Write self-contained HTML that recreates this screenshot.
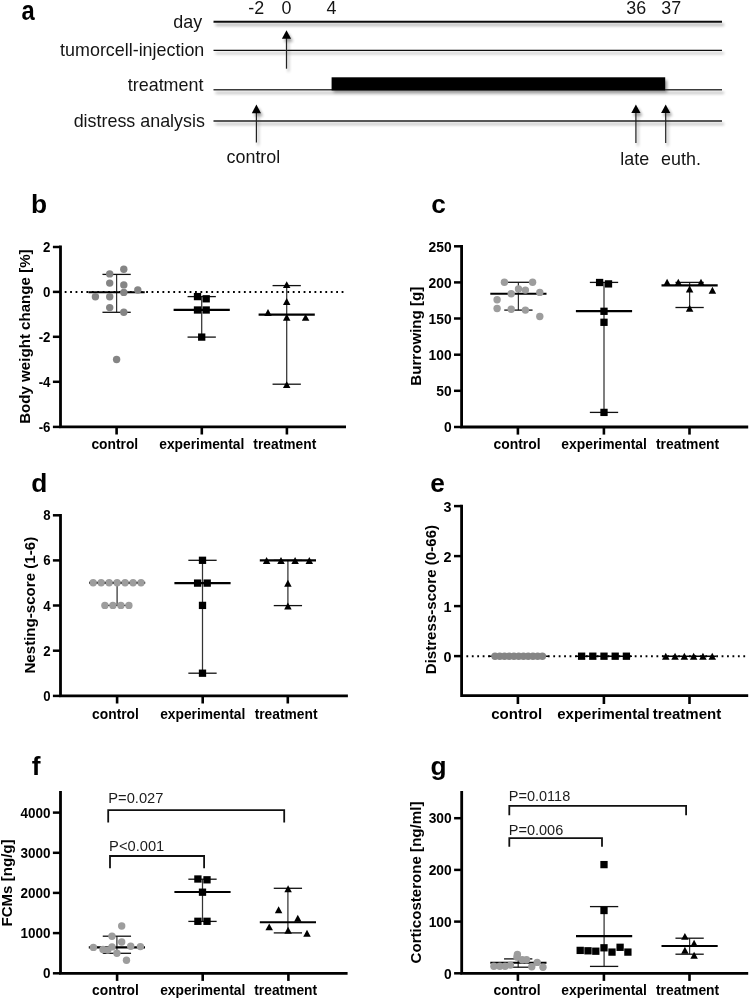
<!DOCTYPE html><html><head><meta charset="utf-8"><style>html,body{margin:0;padding:0;background:#fff;}svg{display:block;filter:blur(0.4px);}text{font-family:"Liberation Sans", sans-serif;}</style></head><body>
<svg width="749" height="1000" viewBox="0 0 749 1000">
<defs><filter id="sh" x="-5%" y="-50%" width="110%" height="200%"><feGaussianBlur in="SourceAlpha" stdDeviation="1.6"/><feOffset dx="2.2" dy="3.2" result="b"/><feComponentTransfer><feFuncA type="linear" slope="0.38"/></feComponentTransfer><feMerge><feMergeNode/><feMergeNode in="SourceGraphic"/></feMerge></filter></defs>
<rect width="749" height="1000" fill="#fff"/>
<text x="0" y="0" font-size="27" font-weight="bold" transform="translate(21.4,19.6) scale(0.88,1)">a</text>
<text x="202.20" y="27.60" font-size="17.9" font-weight="normal" text-anchor="end" fill="#141414" >day</text>
<text x="204.30" y="55.60" font-size="17.9" font-weight="normal" text-anchor="end" fill="#141414" >tumorcell-injection</text>
<text x="203.40" y="90.90" font-size="17.9" font-weight="normal" text-anchor="end" fill="#141414" >treatment</text>
<text x="204.90" y="127.10" font-size="17.9" font-weight="normal" text-anchor="end" fill="#141414" >distress analysis</text>
<text x="256.30" y="14.20" font-size="17.9" font-weight="normal" text-anchor="middle" fill="#141414" >-2</text>
<text x="286.50" y="14.20" font-size="17.9" font-weight="normal" text-anchor="middle" fill="#141414" >0</text>
<text x="331.50" y="14.20" font-size="17.9" font-weight="normal" text-anchor="middle" fill="#141414" >4</text>
<text x="636.20" y="14.20" font-size="17.9" font-weight="normal" text-anchor="middle" fill="#141414" >36</text>
<text x="671.30" y="14.20" font-size="17.9" font-weight="normal" text-anchor="middle" fill="#141414" >37</text>
<g filter="url(#sh)">
<line x1="213.50" y1="21.70" x2="722.00" y2="21.70" stroke="#111" stroke-width="2.1" />
<line x1="213.50" y1="50.40" x2="722.00" y2="50.40" stroke="#111" stroke-width="1.2" />
<line x1="213.50" y1="89.80" x2="722.00" y2="89.80" stroke="#3a3a3a" stroke-width="1.5" />
<line x1="213.50" y1="121.00" x2="722.00" y2="121.00" stroke="#222" stroke-width="1.5" />
<rect x="331.6" y="77.3" width="333.6" height="13.1" fill="#000"/>
<line x1="286.50" y1="36.20" x2="286.50" y2="68.70" stroke="#222" stroke-width="1.2" />
<polygon points="286.50,30.20 291.10,38.80 281.90,38.80" fill="#000"/>
<line x1="256.40" y1="110.60" x2="256.40" y2="142.40" stroke="#222" stroke-width="1.2" />
<polygon points="256.40,104.60 261.00,113.20 251.80,113.20" fill="#000"/>
<line x1="635.90" y1="110.40" x2="635.90" y2="143.00" stroke="#222" stroke-width="1.2" />
<polygon points="635.90,104.40 640.50,113.00 631.30,113.00" fill="#000"/>
<line x1="665.70" y1="110.40" x2="665.70" y2="143.00" stroke="#222" stroke-width="1.2" />
<polygon points="665.70,104.40 670.30,113.00 661.10,113.00" fill="#000"/>
</g>
<text x="253.40" y="163.10" font-size="17.9" font-weight="normal" text-anchor="middle" fill="#141414" >control</text>
<text x="634.80" y="165.30" font-size="17.9" font-weight="normal" text-anchor="middle" fill="#141414" >late</text>
<text x="681.00" y="165.30" font-size="17.9" font-weight="normal" text-anchor="middle" fill="#141414" >euth.</text>
<text x="31.10" y="212.50" font-size="26.3" font-weight="bold" text-anchor="start" fill="#000" >b</text>
<text x="0" y="0" font-size="15.1" font-weight="bold" text-anchor="middle" transform="translate(29.90,336.60) rotate(-90)">Body weight change [%]</text>
<line x1="64.70" y1="292.00" x2="344.50" y2="292.00" stroke="#000" stroke-width="1.9" stroke-dasharray="1.8 3.63"/>
<path d="M60.50,247.00 L60.50,426.90 L344.60,426.90" fill="none" stroke="#000" stroke-width="2.8" stroke-linecap="square" stroke-linejoin="miter"/>
<line x1="52.90" y1="247.00" x2="60.50" y2="247.00" stroke="#000" stroke-width="2.5" />
<text x="0" y="0" font-size="13.3" font-weight="bold" text-anchor="end" transform="translate(50.50,252.05) scale(1,1.06)">2</text>
<line x1="52.90" y1="291.90" x2="60.50" y2="291.90" stroke="#000" stroke-width="2.5" />
<text x="0" y="0" font-size="13.3" font-weight="bold" text-anchor="end" transform="translate(50.50,296.95) scale(1,1.06)">0</text>
<line x1="52.90" y1="336.80" x2="60.50" y2="336.80" stroke="#000" stroke-width="2.5" />
<text x="0" y="0" font-size="13.3" font-weight="bold" text-anchor="end" transform="translate(50.50,341.85) scale(1,1.06)">-2</text>
<line x1="52.90" y1="381.80" x2="60.50" y2="381.80" stroke="#000" stroke-width="2.5" />
<text x="0" y="0" font-size="13.3" font-weight="bold" text-anchor="end" transform="translate(50.50,386.85) scale(1,1.06)">-4</text>
<line x1="52.90" y1="426.90" x2="60.50" y2="426.90" stroke="#000" stroke-width="2.5" />
<text x="0" y="0" font-size="13.3" font-weight="bold" text-anchor="end" transform="translate(50.50,431.95) scale(1,1.06)">-6</text>
<line x1="116.60" y1="426.90" x2="116.60" y2="434.50" stroke="#000" stroke-width="2.6" />
<line x1="201.80" y1="426.90" x2="201.80" y2="434.50" stroke="#000" stroke-width="2.6" />
<line x1="286.90" y1="426.90" x2="286.90" y2="434.50" stroke="#000" stroke-width="2.6" />
<text x="114.80" y="449.30" font-size="13.8" font-weight="bold" text-anchor="middle" fill="#000" >control</text>
<text x="201.80" y="449.30" font-size="13.8" font-weight="bold" text-anchor="middle" fill="#000" >experimental</text>
<text x="284.80" y="449.30" font-size="13.8" font-weight="bold" text-anchor="middle" fill="#000" >treatment</text>
<line x1="116.60" y1="274.40" x2="116.60" y2="312.30" stroke="#333" stroke-width="1.25" />
<line x1="102.45" y1="274.40" x2="130.75" y2="274.40" stroke="#111" stroke-width="1.3" />
<line x1="102.45" y1="312.30" x2="130.75" y2="312.30" stroke="#111" stroke-width="1.3" />
<line x1="88.50" y1="292.20" x2="144.70" y2="292.20" stroke="#000" stroke-width="2.1" />
<line x1="201.70" y1="296.60" x2="201.70" y2="337.10" stroke="#333" stroke-width="1.25" />
<line x1="187.55" y1="296.60" x2="215.85" y2="296.60" stroke="#111" stroke-width="1.3" />
<line x1="187.55" y1="337.10" x2="215.85" y2="337.10" stroke="#111" stroke-width="1.3" />
<line x1="173.60" y1="309.90" x2="229.80" y2="309.90" stroke="#000" stroke-width="2.1" />
<line x1="286.70" y1="285.60" x2="286.70" y2="384.20" stroke="#333" stroke-width="1.25" />
<line x1="272.55" y1="285.60" x2="300.85" y2="285.60" stroke="#111" stroke-width="1.3" />
<line x1="272.55" y1="384.20" x2="300.85" y2="384.20" stroke="#111" stroke-width="1.3" />
<line x1="258.60" y1="314.60" x2="314.80" y2="314.60" stroke="#000" stroke-width="2.1" />
<circle cx="123.80" cy="269.30" r="3.7" fill="#858585"/>
<circle cx="109.70" cy="273.90" r="3.7" fill="#858585"/>
<circle cx="109.70" cy="283.10" r="3.7" fill="#858585"/>
<circle cx="123.80" cy="284.90" r="3.7" fill="#858585"/>
<circle cx="137.80" cy="290.00" r="3.7" fill="#858585"/>
<circle cx="123.80" cy="292.40" r="3.7" fill="#858585"/>
<circle cx="95.40" cy="296.80" r="3.7" fill="#858585"/>
<circle cx="109.70" cy="296.80" r="3.7" fill="#858585"/>
<circle cx="109.70" cy="307.60" r="3.7" fill="#858585"/>
<circle cx="123.80" cy="312.20" r="3.7" fill="#858585"/>
<circle cx="116.60" cy="359.50" r="3.7" fill="#858585"/>
<rect x="193.85" y="292.95" width="7.3" height="7.3" fill="#000"/>
<rect x="202.55" y="295.15" width="7.3" height="7.3" fill="#000"/>
<rect x="193.85" y="306.35" width="7.3" height="7.3" fill="#000"/>
<rect x="202.55" y="306.35" width="7.3" height="7.3" fill="#000"/>
<rect x="198.05" y="333.45" width="7.3" height="7.3" fill="#000"/>
<polygon points="286.70,281.15 290.45,288.05 282.95,288.05" fill="#000"/>
<polygon points="286.70,298.05 290.45,304.95 282.95,304.95" fill="#000"/>
<polygon points="268.00,309.05 271.75,315.95 264.25,315.95" fill="#000"/>
<polygon points="286.70,313.85 290.45,320.75 282.95,320.75" fill="#000"/>
<polygon points="305.60,313.95 309.35,320.85 301.85,320.85" fill="#000"/>
<polygon points="286.70,381.15 290.45,388.05 282.95,388.05" fill="#000"/>
<text x="431.30" y="212.50" font-size="26.3" font-weight="bold" text-anchor="start" fill="#000" >c</text>
<text x="0" y="0" font-size="15.1" font-weight="bold" text-anchor="middle" transform="translate(421.00,336.20) rotate(-90)">Burrowing [g]</text>
<path d="M461.60,246.30 L461.60,427.00 L746.80,427.00" fill="none" stroke="#000" stroke-width="2.8" stroke-linecap="square" stroke-linejoin="miter"/>
<line x1="454.00" y1="246.30" x2="461.60" y2="246.30" stroke="#000" stroke-width="2.5" />
<text x="0" y="0" font-size="13.8" font-weight="bold" text-anchor="end" transform="translate(451.60,251.54) scale(1,1.06)">250</text>
<line x1="454.00" y1="282.40" x2="461.60" y2="282.40" stroke="#000" stroke-width="2.5" />
<text x="0" y="0" font-size="13.8" font-weight="bold" text-anchor="end" transform="translate(451.60,287.64) scale(1,1.06)">200</text>
<line x1="454.00" y1="318.50" x2="461.60" y2="318.50" stroke="#000" stroke-width="2.5" />
<text x="0" y="0" font-size="13.8" font-weight="bold" text-anchor="end" transform="translate(451.60,323.74) scale(1,1.06)">150</text>
<line x1="454.00" y1="354.70" x2="461.60" y2="354.70" stroke="#000" stroke-width="2.5" />
<text x="0" y="0" font-size="13.8" font-weight="bold" text-anchor="end" transform="translate(451.60,359.94) scale(1,1.06)">100</text>
<line x1="454.00" y1="390.80" x2="461.60" y2="390.80" stroke="#000" stroke-width="2.5" />
<text x="0" y="0" font-size="13.8" font-weight="bold" text-anchor="end" transform="translate(451.60,396.04) scale(1,1.06)">50</text>
<line x1="454.00" y1="427.00" x2="461.60" y2="427.00" stroke="#000" stroke-width="2.5" />
<text x="0" y="0" font-size="13.8" font-weight="bold" text-anchor="end" transform="translate(451.60,432.24) scale(1,1.06)">0</text>
<line x1="517.90" y1="427.00" x2="517.90" y2="434.60" stroke="#000" stroke-width="2.6" />
<line x1="603.90" y1="427.00" x2="603.90" y2="434.60" stroke="#000" stroke-width="2.6" />
<line x1="689.50" y1="427.00" x2="689.50" y2="434.60" stroke="#000" stroke-width="2.6" />
<text x="517.00" y="449.30" font-size="13.9" font-weight="bold" text-anchor="middle" fill="#000" >control</text>
<text x="604.10" y="449.30" font-size="13.9" font-weight="bold" text-anchor="middle" fill="#000" >experimental</text>
<text x="687.60" y="449.30" font-size="13.9" font-weight="bold" text-anchor="middle" fill="#000" >treatment</text>
<line x1="518.40" y1="282.30" x2="518.40" y2="310.10" stroke="#333" stroke-width="1.25" />
<line x1="504.25" y1="282.30" x2="532.55" y2="282.30" stroke="#111" stroke-width="1.3" />
<line x1="504.25" y1="310.10" x2="532.55" y2="310.10" stroke="#111" stroke-width="1.3" />
<line x1="490.30" y1="293.80" x2="546.50" y2="293.80" stroke="#000" stroke-width="2.1" />
<line x1="604.00" y1="282.40" x2="604.00" y2="412.40" stroke="#333" stroke-width="1.25" />
<line x1="589.85" y1="282.40" x2="618.15" y2="282.40" stroke="#111" stroke-width="1.3" />
<line x1="589.85" y1="412.40" x2="618.15" y2="412.40" stroke="#111" stroke-width="1.3" />
<line x1="575.90" y1="311.10" x2="632.10" y2="311.10" stroke="#000" stroke-width="2.1" />
<line x1="689.60" y1="282.40" x2="689.60" y2="307.50" stroke="#333" stroke-width="1.25" />
<line x1="675.45" y1="282.40" x2="703.75" y2="282.40" stroke="#111" stroke-width="1.3" />
<line x1="675.45" y1="307.50" x2="703.75" y2="307.50" stroke="#111" stroke-width="1.3" />
<line x1="661.50" y1="285.40" x2="717.70" y2="285.40" stroke="#000" stroke-width="2.1" />
<circle cx="504.40" cy="282.30" r="3.7" fill="#9d9d9d"/>
<circle cx="532.60" cy="282.30" r="3.7" fill="#9d9d9d"/>
<circle cx="518.50" cy="289.00" r="3.7" fill="#9d9d9d"/>
<circle cx="525.40" cy="290.10" r="3.7" fill="#9d9d9d"/>
<circle cx="511.20" cy="293.70" r="3.7" fill="#9d9d9d"/>
<circle cx="539.80" cy="292.40" r="3.7" fill="#9d9d9d"/>
<circle cx="497.10" cy="299.70" r="3.7" fill="#9d9d9d"/>
<circle cx="497.10" cy="308.50" r="3.7" fill="#9d9d9d"/>
<circle cx="511.20" cy="309.30" r="3.7" fill="#9d9d9d"/>
<circle cx="525.40" cy="310.10" r="3.7" fill="#9d9d9d"/>
<circle cx="539.80" cy="316.50" r="3.7" fill="#9d9d9d"/>
<rect x="595.95" y="278.85" width="7.3" height="7.3" fill="#000"/>
<rect x="604.85" y="280.25" width="7.3" height="7.3" fill="#000"/>
<rect x="600.35" y="307.65" width="7.3" height="7.3" fill="#000"/>
<rect x="600.35" y="318.65" width="7.3" height="7.3" fill="#000"/>
<rect x="600.35" y="408.75" width="7.3" height="7.3" fill="#000"/>
<polygon points="667.10,278.75 670.85,285.65 663.35,285.65" fill="#000"/>
<polygon points="678.30,278.75 682.05,285.65 674.55,285.65" fill="#000"/>
<polygon points="701.00,278.75 704.75,285.65 697.25,285.65" fill="#000"/>
<polygon points="689.60,285.55 693.35,292.45 685.85,292.45" fill="#000"/>
<polygon points="712.40,286.85 716.15,293.75 708.65,293.75" fill="#000"/>
<polygon points="689.60,304.75 693.35,311.65 685.85,311.65" fill="#000"/>
<text x="31.30" y="491.70" font-size="26.3" font-weight="bold" text-anchor="start" fill="#000" >d</text>
<text x="0" y="0" font-size="15.1" font-weight="bold" text-anchor="middle" transform="translate(34.80,605.20) rotate(-90)">Nesting-score (1-6)</text>
<path d="M60.50,515.30 L60.50,695.90 L346.50,695.90" fill="none" stroke="#000" stroke-width="2.8" stroke-linecap="square" stroke-linejoin="miter"/>
<line x1="52.90" y1="515.30" x2="60.50" y2="515.30" stroke="#000" stroke-width="2.5" />
<text x="0" y="0" font-size="13.2" font-weight="bold" text-anchor="end" transform="translate(50.50,520.31) scale(1,1.06)">8</text>
<line x1="52.90" y1="560.40" x2="60.50" y2="560.40" stroke="#000" stroke-width="2.5" />
<text x="0" y="0" font-size="13.2" font-weight="bold" text-anchor="end" transform="translate(50.50,565.41) scale(1,1.06)">6</text>
<line x1="52.90" y1="605.50" x2="60.50" y2="605.50" stroke="#000" stroke-width="2.5" />
<text x="0" y="0" font-size="13.2" font-weight="bold" text-anchor="end" transform="translate(50.50,610.51) scale(1,1.06)">4</text>
<line x1="52.90" y1="650.70" x2="60.50" y2="650.70" stroke="#000" stroke-width="2.5" />
<text x="0" y="0" font-size="13.2" font-weight="bold" text-anchor="end" transform="translate(50.50,655.71) scale(1,1.06)">2</text>
<line x1="52.90" y1="695.90" x2="60.50" y2="695.90" stroke="#000" stroke-width="2.5" />
<text x="0" y="0" font-size="13.2" font-weight="bold" text-anchor="end" transform="translate(50.50,700.91) scale(1,1.06)">0</text>
<line x1="117.10" y1="695.90" x2="117.10" y2="703.50" stroke="#000" stroke-width="2.6" />
<line x1="202.70" y1="695.90" x2="202.70" y2="703.50" stroke="#000" stroke-width="2.6" />
<line x1="287.80" y1="695.90" x2="287.80" y2="703.50" stroke="#000" stroke-width="2.6" />
<text x="115.50" y="719.00" font-size="13.8" font-weight="bold" text-anchor="middle" fill="#000" >control</text>
<text x="202.70" y="719.00" font-size="13.8" font-weight="bold" text-anchor="middle" fill="#000" >experimental</text>
<text x="286.10" y="719.00" font-size="13.8" font-weight="bold" text-anchor="middle" fill="#000" >treatment</text>
<line x1="117.10" y1="582.80" x2="117.10" y2="605.40" stroke="#333" stroke-width="1.25" />
<line x1="102.95" y1="582.80" x2="131.25" y2="582.80" stroke="#111" stroke-width="1.3" />
<line x1="102.95" y1="605.40" x2="131.25" y2="605.40" stroke="#111" stroke-width="1.3" />
<line x1="89.00" y1="582.80" x2="145.20" y2="582.80" stroke="#000" stroke-width="2.1" />
<line x1="202.50" y1="560.30" x2="202.50" y2="673.20" stroke="#333" stroke-width="1.25" />
<line x1="188.35" y1="560.30" x2="216.65" y2="560.30" stroke="#111" stroke-width="1.3" />
<line x1="188.35" y1="673.20" x2="216.65" y2="673.20" stroke="#111" stroke-width="1.3" />
<line x1="174.40" y1="583.10" x2="230.60" y2="583.10" stroke="#000" stroke-width="2.1" />
<line x1="287.90" y1="560.40" x2="287.90" y2="605.60" stroke="#333" stroke-width="1.25" />
<line x1="273.75" y1="560.40" x2="302.05" y2="560.40" stroke="#111" stroke-width="1.3" />
<line x1="273.75" y1="605.60" x2="302.05" y2="605.60" stroke="#111" stroke-width="1.3" />
<line x1="259.80" y1="560.40" x2="316.00" y2="560.40" stroke="#000" stroke-width="2.1" />
<circle cx="93.16" cy="582.80" r="3.7" fill="#9d9d9d"/>
<circle cx="101.14" cy="582.80" r="3.7" fill="#9d9d9d"/>
<circle cx="109.12" cy="582.80" r="3.7" fill="#9d9d9d"/>
<circle cx="117.10" cy="582.80" r="3.7" fill="#9d9d9d"/>
<circle cx="125.08" cy="582.80" r="3.7" fill="#9d9d9d"/>
<circle cx="133.06" cy="582.80" r="3.7" fill="#9d9d9d"/>
<circle cx="141.04" cy="582.80" r="3.7" fill="#9d9d9d"/>
<circle cx="104.90" cy="605.40" r="3.7" fill="#9d9d9d"/>
<circle cx="112.90" cy="605.40" r="3.7" fill="#9d9d9d"/>
<circle cx="120.90" cy="605.40" r="3.7" fill="#9d9d9d"/>
<circle cx="128.90" cy="605.40" r="3.7" fill="#9d9d9d"/>
<rect x="198.85" y="556.65" width="7.3" height="7.3" fill="#000"/>
<rect x="193.95" y="579.45" width="7.3" height="7.3" fill="#000"/>
<rect x="203.55" y="579.45" width="7.3" height="7.3" fill="#000"/>
<rect x="198.85" y="601.75" width="7.3" height="7.3" fill="#000"/>
<rect x="198.85" y="669.55" width="7.3" height="7.3" fill="#000"/>
<polygon points="266.60,557.05 270.35,563.95 262.85,563.95" fill="#000"/>
<polygon points="281.00,557.05 284.75,563.95 277.25,563.95" fill="#000"/>
<polygon points="295.10,557.05 298.85,563.95 291.35,563.95" fill="#000"/>
<polygon points="309.30,557.05 313.05,563.95 305.55,563.95" fill="#000"/>
<polygon points="287.90,579.75 291.65,586.65 284.15,586.65" fill="#000"/>
<polygon points="287.90,602.55 291.65,609.45 284.15,609.45" fill="#000"/>
<text x="430.30" y="491.70" font-size="26.3" font-weight="bold" text-anchor="start" fill="#000" >e</text>
<text x="0" y="0" font-size="15.1" font-weight="bold" text-anchor="middle" transform="translate(436.40,599.60) rotate(-90)">Distress-score (0-66)</text>
<line x1="466.40" y1="656.20" x2="747.00" y2="656.20" stroke="#000" stroke-width="1.9" stroke-dasharray="1.8 3.63"/>
<path d="M461.60,506.10 L461.60,695.60 L746.80,695.60" fill="none" stroke="#000" stroke-width="2.8" stroke-linecap="square" stroke-linejoin="miter"/>
<line x1="454.00" y1="506.10" x2="461.60" y2="506.10" stroke="#000" stroke-width="2.5" />
<text x="0" y="0" font-size="14.4" font-weight="bold" text-anchor="end" transform="translate(451.60,511.56) scale(1,1.06)">3</text>
<line x1="454.00" y1="556.10" x2="461.60" y2="556.10" stroke="#000" stroke-width="2.5" />
<text x="0" y="0" font-size="14.4" font-weight="bold" text-anchor="end" transform="translate(451.60,561.56) scale(1,1.06)">2</text>
<line x1="454.00" y1="606.10" x2="461.60" y2="606.10" stroke="#000" stroke-width="2.5" />
<text x="0" y="0" font-size="14.4" font-weight="bold" text-anchor="end" transform="translate(451.60,611.56) scale(1,1.06)">1</text>
<line x1="454.00" y1="656.10" x2="461.60" y2="656.10" stroke="#000" stroke-width="2.5" />
<text x="0" y="0" font-size="14.4" font-weight="bold" text-anchor="end" transform="translate(451.60,661.56) scale(1,1.06)">0</text>
<line x1="517.90" y1="695.60" x2="517.90" y2="704.00" stroke="#000" stroke-width="2.6" />
<line x1="603.90" y1="695.60" x2="603.90" y2="704.00" stroke="#000" stroke-width="2.6" />
<line x1="689.50" y1="695.60" x2="689.50" y2="704.00" stroke="#000" stroke-width="2.6" />
<text x="516.70" y="719.30" font-size="15.0" font-weight="bold" text-anchor="middle" fill="#000" >control</text>
<text x="603.50" y="719.30" font-size="15.0" font-weight="bold" text-anchor="middle" fill="#000" >experimental</text>
<text x="687.00" y="719.30" font-size="15.0" font-weight="bold" text-anchor="middle" fill="#000" >treatment</text>
<line x1="488.50" y1="656.20" x2="548.50" y2="656.20" stroke="#000" stroke-width="1.6" />
<line x1="576.00" y1="656.20" x2="632.00" y2="656.20" stroke="#000" stroke-width="1.6" />
<line x1="662.00" y1="656.20" x2="716.00" y2="656.20" stroke="#000" stroke-width="1.6" />
<circle cx="495.00" cy="656.20" r="3.7" fill="#858585"/>
<circle cx="499.74" cy="656.20" r="3.7" fill="#858585"/>
<circle cx="504.48" cy="656.20" r="3.7" fill="#858585"/>
<circle cx="509.22" cy="656.20" r="3.7" fill="#858585"/>
<circle cx="513.96" cy="656.20" r="3.7" fill="#858585"/>
<circle cx="518.70" cy="656.20" r="3.7" fill="#858585"/>
<circle cx="523.44" cy="656.20" r="3.7" fill="#858585"/>
<circle cx="528.18" cy="656.20" r="3.7" fill="#858585"/>
<circle cx="532.92" cy="656.20" r="3.7" fill="#858585"/>
<circle cx="537.66" cy="656.20" r="3.7" fill="#858585"/>
<circle cx="542.40" cy="656.20" r="3.7" fill="#858585"/>
<rect x="577.95" y="652.55" width="7.3" height="7.3" fill="#000"/>
<rect x="589.15" y="652.55" width="7.3" height="7.3" fill="#000"/>
<rect x="600.35" y="652.55" width="7.3" height="7.3" fill="#000"/>
<rect x="611.55" y="652.55" width="7.3" height="7.3" fill="#000"/>
<rect x="622.75" y="652.55" width="7.3" height="7.3" fill="#000"/>
<polygon points="665.75,652.75 669.50,659.65 662.00,659.65" fill="#000"/>
<polygon points="675.05,652.75 678.80,659.65 671.30,659.65" fill="#000"/>
<polygon points="684.35,652.75 688.10,659.65 680.60,659.65" fill="#000"/>
<polygon points="693.65,652.75 697.40,659.65 689.90,659.65" fill="#000"/>
<polygon points="702.95,652.75 706.70,659.65 699.20,659.65" fill="#000"/>
<polygon points="712.25,652.75 716.00,659.65 708.50,659.65" fill="#000"/>
<text x="31.80" y="775.20" font-size="26.3" font-weight="bold" text-anchor="start" fill="#000" >f</text>
<text x="0" y="0" font-size="15.1" font-weight="bold" text-anchor="middle" transform="translate(12.20,883.00) rotate(-90)">FCMs [ng/g]</text>
<path d="M60.50,792.50 L60.50,973.30 L346.20,973.30" fill="none" stroke="#000" stroke-width="2.8" stroke-linecap="square" stroke-linejoin="miter"/>
<line x1="52.90" y1="812.60" x2="60.50" y2="812.60" stroke="#000" stroke-width="2.5" />
<text x="0" y="0" font-size="13.5" font-weight="bold" text-anchor="end" transform="translate(50.50,817.72) scale(1,1.06)">4000</text>
<line x1="52.90" y1="852.80" x2="60.50" y2="852.80" stroke="#000" stroke-width="2.5" />
<text x="0" y="0" font-size="13.5" font-weight="bold" text-anchor="end" transform="translate(50.50,857.92) scale(1,1.06)">3000</text>
<line x1="52.90" y1="892.90" x2="60.50" y2="892.90" stroke="#000" stroke-width="2.5" />
<text x="0" y="0" font-size="13.5" font-weight="bold" text-anchor="end" transform="translate(50.50,898.02) scale(1,1.06)">2000</text>
<line x1="52.90" y1="933.10" x2="60.50" y2="933.10" stroke="#000" stroke-width="2.5" />
<text x="0" y="0" font-size="13.5" font-weight="bold" text-anchor="end" transform="translate(50.50,938.22) scale(1,1.06)">1000</text>
<line x1="52.90" y1="973.30" x2="60.50" y2="973.30" stroke="#000" stroke-width="2.5" />
<text x="0" y="0" font-size="13.5" font-weight="bold" text-anchor="end" transform="translate(50.50,978.42) scale(1,1.06)">0</text>
<line x1="117.10" y1="973.30" x2="117.10" y2="980.90" stroke="#000" stroke-width="2.6" />
<line x1="202.70" y1="973.30" x2="202.70" y2="980.90" stroke="#000" stroke-width="2.6" />
<line x1="288.40" y1="973.30" x2="288.40" y2="980.90" stroke="#000" stroke-width="2.6" />
<text x="115.50" y="995.40" font-size="13.8" font-weight="bold" text-anchor="middle" fill="#000" >control</text>
<text x="202.70" y="995.40" font-size="13.8" font-weight="bold" text-anchor="middle" fill="#000" >experimental</text>
<text x="285.70" y="995.40" font-size="13.8" font-weight="bold" text-anchor="middle" fill="#000" >treatment</text>
<path d="M108.2,822.4 L108.2,810.2 L284.2,810.2 L284.2,822.4" fill="none" stroke="#111" stroke-width="1.8"/>
<path d="M110.0,868.3 L110.0,856.0 L204.1,856.0 L204.1,868.3" fill="none" stroke="#111" stroke-width="1.8"/>
<text x="108.30" y="803.00" font-size="14.7" font-weight="normal" text-anchor="start" fill="#1c1c1c" >P=0.027</text>
<text x="109.10" y="850.50" font-size="14.7" font-weight="normal" text-anchor="start" fill="#1c1c1c" >P&lt;0.001</text>
<line x1="116.90" y1="936.20" x2="116.90" y2="953.30" stroke="#333" stroke-width="1.25" />
<line x1="102.75" y1="936.20" x2="131.05" y2="936.20" stroke="#111" stroke-width="1.3" />
<line x1="102.75" y1="953.30" x2="131.05" y2="953.30" stroke="#111" stroke-width="1.3" />
<line x1="88.80" y1="947.40" x2="145.00" y2="947.40" stroke="#000" stroke-width="2.1" />
<line x1="202.50" y1="879.20" x2="202.50" y2="921.40" stroke="#333" stroke-width="1.25" />
<line x1="188.35" y1="879.20" x2="216.65" y2="879.20" stroke="#111" stroke-width="1.3" />
<line x1="188.35" y1="921.40" x2="216.65" y2="921.40" stroke="#111" stroke-width="1.3" />
<line x1="174.40" y1="892.00" x2="230.60" y2="892.00" stroke="#000" stroke-width="2.1" />
<line x1="287.90" y1="888.30" x2="287.90" y2="932.90" stroke="#333" stroke-width="1.25" />
<line x1="273.75" y1="888.30" x2="302.05" y2="888.30" stroke="#111" stroke-width="1.3" />
<line x1="273.75" y1="932.90" x2="302.05" y2="932.90" stroke="#111" stroke-width="1.3" />
<line x1="259.80" y1="922.20" x2="316.00" y2="922.20" stroke="#000" stroke-width="2.1" />
<circle cx="121.70" cy="926.00" r="3.7" fill="#9d9d9d"/>
<circle cx="112.00" cy="936.20" r="3.7" fill="#9d9d9d"/>
<circle cx="121.70" cy="942.00" r="3.7" fill="#9d9d9d"/>
<circle cx="93.40" cy="947.40" r="3.7" fill="#9d9d9d"/>
<circle cx="112.00" cy="946.90" r="3.7" fill="#9d9d9d"/>
<circle cx="130.70" cy="946.30" r="3.7" fill="#9d9d9d"/>
<circle cx="140.40" cy="946.60" r="3.7" fill="#9d9d9d"/>
<circle cx="103.00" cy="949.50" r="3.7" fill="#9d9d9d"/>
<circle cx="107.80" cy="950.10" r="3.7" fill="#9d9d9d"/>
<circle cx="116.90" cy="953.30" r="3.7" fill="#9d9d9d"/>
<circle cx="126.50" cy="960.20" r="3.7" fill="#9d9d9d"/>
<rect x="194.25" y="875.35" width="7.3" height="7.3" fill="#000"/>
<rect x="203.35" y="876.15" width="7.3" height="7.3" fill="#000"/>
<rect x="198.85" y="888.55" width="7.3" height="7.3" fill="#000"/>
<rect x="194.25" y="917.65" width="7.3" height="7.3" fill="#000"/>
<rect x="203.35" y="917.65" width="7.3" height="7.3" fill="#000"/>
<polygon points="288.10,885.25 291.85,892.15 284.35,892.15" fill="#000"/>
<polygon points="278.60,906.25 282.35,913.15 274.85,913.15" fill="#000"/>
<polygon points="297.80,914.85 301.55,921.75 294.05,921.75" fill="#000"/>
<polygon points="269.20,923.45 272.95,930.35 265.45,930.35" fill="#000"/>
<polygon points="288.10,926.75 291.85,933.65 284.35,933.65" fill="#000"/>
<polygon points="307.00,929.75 310.75,936.65 303.25,936.65" fill="#000"/>
<text x="430.60" y="774.90" font-size="26.3" font-weight="bold" text-anchor="start" fill="#000" >g</text>
<text x="0" y="0" font-size="15.1" font-weight="bold" text-anchor="middle" transform="translate(421.00,882.50) rotate(-90)">Corticosterone [ng/ml]</text>
<path d="M461.70,792.50 L461.70,973.30 L746.80,973.30" fill="none" stroke="#000" stroke-width="2.8" stroke-linecap="square" stroke-linejoin="miter"/>
<line x1="454.10" y1="818.20" x2="461.70" y2="818.20" stroke="#000" stroke-width="2.5" />
<text x="0" y="0" font-size="13.8" font-weight="bold" text-anchor="end" transform="translate(451.70,823.44) scale(1,1.06)">300</text>
<line x1="454.10" y1="869.90" x2="461.70" y2="869.90" stroke="#000" stroke-width="2.5" />
<text x="0" y="0" font-size="13.8" font-weight="bold" text-anchor="end" transform="translate(451.70,875.14) scale(1,1.06)">200</text>
<line x1="454.10" y1="921.60" x2="461.70" y2="921.60" stroke="#000" stroke-width="2.5" />
<text x="0" y="0" font-size="13.8" font-weight="bold" text-anchor="end" transform="translate(451.70,926.84) scale(1,1.06)">100</text>
<line x1="454.10" y1="973.30" x2="461.70" y2="973.30" stroke="#000" stroke-width="2.5" />
<text x="0" y="0" font-size="13.8" font-weight="bold" text-anchor="end" transform="translate(451.70,978.54) scale(1,1.06)">0</text>
<line x1="517.90" y1="973.30" x2="517.90" y2="980.90" stroke="#000" stroke-width="2.6" />
<line x1="603.90" y1="973.30" x2="603.90" y2="980.90" stroke="#000" stroke-width="2.6" />
<line x1="689.50" y1="973.30" x2="689.50" y2="980.90" stroke="#000" stroke-width="2.6" />
<text x="517.00" y="995.40" font-size="13.9" font-weight="bold" text-anchor="middle" fill="#000" >control</text>
<text x="604.10" y="995.40" font-size="13.9" font-weight="bold" text-anchor="middle" fill="#000" >experimental</text>
<text x="687.60" y="995.40" font-size="13.9" font-weight="bold" text-anchor="middle" fill="#000" >treatment</text>
<path d="M509.3,815.2 L509.3,805.9 L686.1,805.9 L686.1,815.2" fill="none" stroke="#111" stroke-width="1.8"/>
<path d="M509.3,846.8 L509.3,838.2 L602.0,838.2 L602.0,846.8" fill="none" stroke="#111" stroke-width="1.8"/>
<text x="508.80" y="800.80" font-size="14.5" font-weight="normal" text-anchor="start" fill="#1c1c1c" >P=0.0118</text>
<text x="508.80" y="834.70" font-size="14.5" font-weight="normal" text-anchor="start" fill="#1c1c1c" >P=0.006</text>
<line x1="518.20" y1="958.90" x2="518.20" y2="967.20" stroke="#333" stroke-width="1.25" />
<line x1="504.05" y1="958.90" x2="532.35" y2="958.90" stroke="#111" stroke-width="1.3" />
<line x1="504.05" y1="967.20" x2="532.35" y2="967.20" stroke="#111" stroke-width="1.3" />
<line x1="490.30" y1="962.80" x2="546.50" y2="962.80" stroke="#000" stroke-width="2.1" />
<line x1="604.10" y1="906.60" x2="604.10" y2="966.40" stroke="#333" stroke-width="1.25" />
<line x1="589.95" y1="906.60" x2="618.25" y2="906.60" stroke="#111" stroke-width="1.3" />
<line x1="589.95" y1="966.40" x2="618.25" y2="966.40" stroke="#111" stroke-width="1.3" />
<line x1="576.00" y1="936.10" x2="632.20" y2="936.10" stroke="#000" stroke-width="2.1" />
<line x1="689.60" y1="938.20" x2="689.60" y2="954.20" stroke="#333" stroke-width="1.25" />
<line x1="675.45" y1="938.20" x2="703.75" y2="938.20" stroke="#111" stroke-width="1.3" />
<line x1="675.45" y1="954.20" x2="703.75" y2="954.20" stroke="#111" stroke-width="1.3" />
<line x1="661.50" y1="946.00" x2="717.70" y2="946.00" stroke="#000" stroke-width="2.1" />
<circle cx="493.90" cy="966.20" r="3.7" fill="#9d9d9d"/>
<circle cx="499.80" cy="966.20" r="3.7" fill="#9d9d9d"/>
<circle cx="505.10" cy="966.20" r="3.7" fill="#9d9d9d"/>
<circle cx="510.40" cy="965.10" r="3.7" fill="#9d9d9d"/>
<circle cx="517.40" cy="954.40" r="3.7" fill="#9d9d9d"/>
<circle cx="516.90" cy="957.10" r="3.7" fill="#9d9d9d"/>
<circle cx="522.20" cy="959.80" r="3.7" fill="#9d9d9d"/>
<circle cx="526.50" cy="959.80" r="3.7" fill="#9d9d9d"/>
<circle cx="531.80" cy="966.70" r="3.7" fill="#9d9d9d"/>
<circle cx="537.20" cy="962.40" r="3.7" fill="#9d9d9d"/>
<circle cx="543.00" cy="967.20" r="3.7" fill="#9d9d9d"/>
<rect x="600.35" y="860.95" width="7.3" height="7.3" fill="#000"/>
<rect x="600.35" y="906.85" width="7.3" height="7.3" fill="#000"/>
<rect x="576.55" y="946.75" width="7.3" height="7.3" fill="#000"/>
<rect x="584.35" y="947.15" width="7.3" height="7.3" fill="#000"/>
<rect x="592.15" y="947.55" width="7.3" height="7.3" fill="#000"/>
<rect x="600.35" y="944.15" width="7.3" height="7.3" fill="#000"/>
<rect x="608.35" y="948.45" width="7.3" height="7.3" fill="#000"/>
<rect x="616.45" y="943.65" width="7.3" height="7.3" fill="#000"/>
<rect x="624.25" y="948.45" width="7.3" height="7.3" fill="#000"/>
<polygon points="684.90,932.95 688.65,939.85 681.15,939.85" fill="#000"/>
<polygon points="694.10,939.85 697.85,946.75 690.35,946.75" fill="#000"/>
<polygon points="684.90,946.75 688.65,953.65 681.15,953.65" fill="#000"/>
<polygon points="694.10,951.85 697.85,958.75 690.35,958.75" fill="#000"/>
</svg></body></html>
